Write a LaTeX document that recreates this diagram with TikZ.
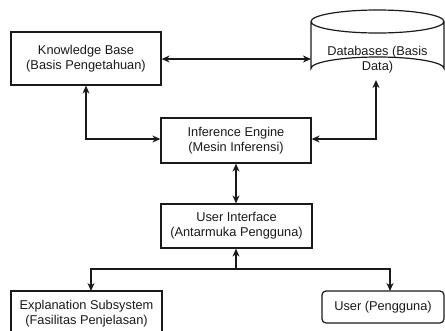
\documentclass[tikz,border=0pt]{standalone}
\usepackage{fontspec}
\setmainfont{Liberation Sans}
\usetikzlibrary{arrows.meta}
\definecolor{ink}{HTML}{1A1A1A}
\begin{document}
\begin{tikzpicture}[x=1pt,y=-1pt,
  line width=1.2pt, draw=ink, text=ink,
  label font/.style={font=\fontsize{12.8}{15}\selectfont},
  box/.style={draw, rectangle, inner sep=0pt, align=center, label font},
  tip/.style={Stealth[length=8pt,width=7pt,inset=2.5pt]},
  link/.style={{Stealth[length=8pt,width=7pt,inset=2.5pt]}-{Stealth[length=8pt,width=7pt,inset=2.5pt]}},
  uni/.style={-{Stealth[length=8pt,width=7pt,inset=2.5pt]}}]
\useasboundingbox (0,0) rectangle (445,330);
\clip (0,0) rectangle (445,330);

% boxes
\node[box, minimum width=150pt, minimum height=53pt] (kb) at (86,58.5)
  {Knowledge Base\\(Basis Pengetahuan)};
\node[box, minimum width=150pt, minimum height=45pt] (ie) at (236,140.5)
  {Inference Engine\\(Mesin Inferensi)};
\node[box, minimum width=151pt, minimum height=44pt] (ui) at (236.5,226)
  {User Interface\\(Antarmuka Pengguna)};
\node[box, minimum width=151pt, minimum height=46pt] (es) at (86.5,314)
  {Explanation Subsystem\\(Fasilitas Penjelasan)};
\node[box, rounded corners=4pt, minimum width=122pt, minimum height=32pt] (user) at (383,307)
  {User (Pengguna)};

% database cylinder
\draw (311,21.5) arc[start angle=180, end angle=-180, x radius=66.5, y radius=11.5]
      (311,21.5) -- (311,68.5) arc[start angle=180, end angle=360, x radius=66.5, y radius=11.5]
      -- (444,21.5);
\node[align=center, label font] (db) at (377.5,59.5)
  {Databases (Basis\\Data)};
\coordinate (dbwest) at (311,59);
\coordinate (dbsouth) at (376,80);

% attachment points
\coordinate (esin) at (91,291);
\coordinate (userin) at (390,291);

% connectors
\draw[link] (kb.east |- dbwest) -- (dbwest);
\draw[link] (kb.south) |- (ie.west |- 0,139);
\draw[link] (dbsouth) |- (ie.east |- 0,139);
\draw[link] (ie.south) -- (ui.north -| ie.south);
\draw[link] (ui.south -| 236,0) -- (236,269) -| (esin);
\draw[uni] (236,269) -| (userin);
\end{tikzpicture}
\end{document}
